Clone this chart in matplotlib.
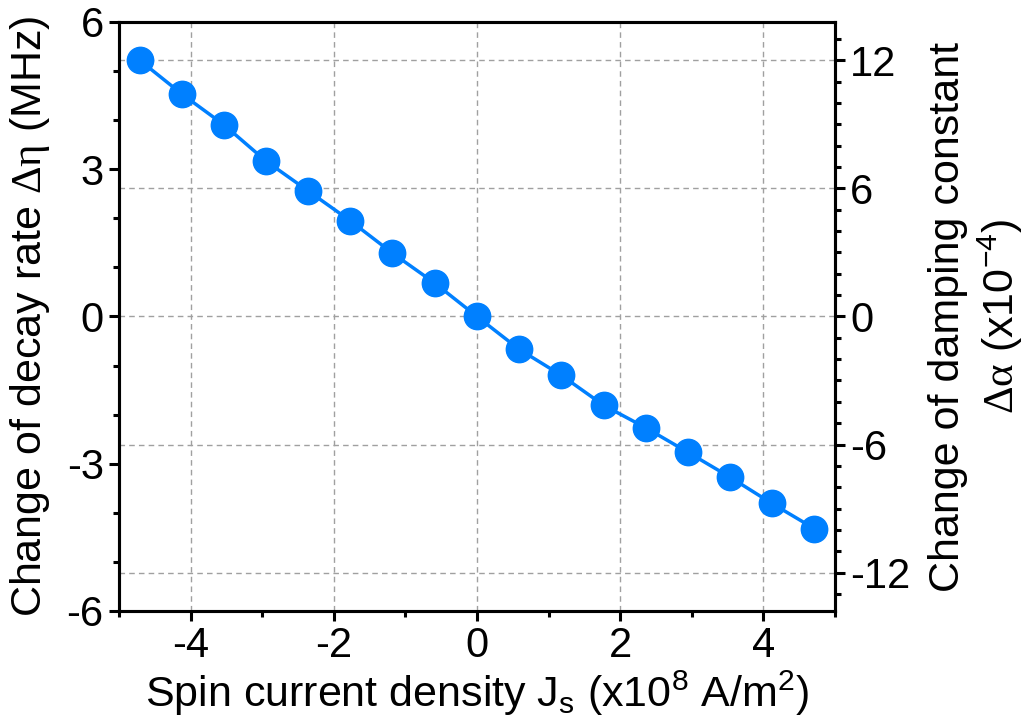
import matplotlib
matplotlib.use("Agg")
import matplotlib.pyplot as plt
from matplotlib.ticker import MultipleLocator

plt.rcParams['font.family'] = ['Liberation Sans', 'DejaVu Sans']
plt.rcParams['mathtext.fontset'] = 'custom'
plt.rcParams['mathtext.rm'] = 'Liberation Serif'
plt.rcParams['mathtext.it'] = 'Liberation Serif:italic'
plt.rcParams['mathtext.default'] = 'regular'

# Data
spin_current = [-4.71, -4.12, -3.53, -2.95, -2.36, -1.77, -1.18, -0.59, 0.0,
                0.59, 1.18, 1.77, 2.36, 2.95, 3.53, 4.12, 4.71]
decay_rate = [5.22, 4.53, 3.90, 3.17, 2.56, 1.95, 1.29, 0.68, 0.0,
              -0.67, -1.20, -1.81, -2.27, -2.77, -3.27, -3.81, -4.32]
x_ticks = [-4, -2, 0, 2, 4]
left_ticks = [-6, -3, 0, 3, 6]
right_ticks = [-12, -6, 0, 6, 12]

color = '#0080FF'
fig = plt.figure(figsize=(10.34, 7.21), dpi=100)
ax = fig.add_axes([0.115, 0.1526, 0.6925, 0.817])
ax2 = ax.twinx()

ax.plot(spin_current, decay_rate, '-o', color=color, lw=2.5, ms=19, zorder=5)

ax.set_xlim(-5, 5)
ax.set_ylim(-6, 6)
ax2.set_ylim(-13.8, 13.8)
ax.set_xticks(x_ticks)
ax.set_yticks(left_ticks)
ax2.set_yticks(right_ticks)
ax.xaxis.set_minor_locator(MultipleLocator(1))
ax.yaxis.set_minor_locator(MultipleLocator(1))
ax2.yaxis.set_minor_locator(MultipleLocator(1))

ax.set_xticklabels([str(v) for v in x_ticks])
ax.set_yticklabels([str(v) for v in left_ticks])
ax2.set_yticklabels([str(v) for v in right_ticks])

for a in (ax, ax2):
    for s in a.spines.values():
        s.set_linewidth(2.2)
    a.tick_params(which='major', direction='out', length=7, width=2.2, labelsize=30, pad=4)
    a.tick_params(which='minor', direction='out', length=4, width=2.2)

ax.grid(axis='x', color='#a0a0a0', ls=(0, (4, 3)), lw=1)
ax2.grid(axis='y', color='#a0a0a0', ls=(0, (4, 3)), lw=1)
ax.set_zorder(ax2.get_zorder() + 1)
ax.patch.set_visible(False)

ax.set_xlabel(r'Spin current density J$_s$ (x10$^8$ A/m$^2$)', fontsize=31)
ax.set_ylabel(r'Change of decay rate $\mathrm{\Delta\eta}$ (MHz)', fontsize=31)
ax2.set_ylabel('Change of damping constant\n' + r'$\mathrm{\Delta\alpha}$ (x10$^{-4}$)',
               fontsize=31, rotation=90, linespacing=1.2)
ax.xaxis.set_label_coords(0.5, -0.097)
ax.yaxis.set_label_coords(-0.094, 0.5)
ax2.yaxis.set_label_coords(1.13, 0.5)

fig.savefig('out.png', dpi=100)
